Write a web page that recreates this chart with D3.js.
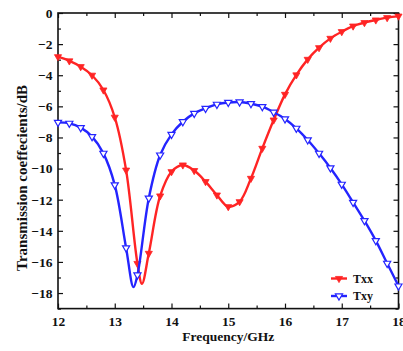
<!DOCTYPE html>
<html>
<head>
<meta charset="utf-8">
<script src="https://cdn.jsdelivr.net/npm/d3@7"></script>
<style>
  body { margin: 0; background: #fff; }
  svg { display: block; font-family: "Liberation Serif", "Times New Roman", serif; font-weight: bold; }
</style>
</head>
<body>
<div id="chart"></div>
<script>
// frequency points (GHz); markers are drawn only on the 0.2 GHz grid
const freqTxx = [12.0, 12.2, 12.4, 12.6, 12.8, 13.0, 13.2, 13.4, 13.48, 13.6, 13.8, 14.0, 14.2, 14.4, 14.6, 14.8, 15.0, 15.2, 15.4, 15.6, 15.8, 16.0, 16.2, 16.4, 16.6, 16.8, 17.0, 17.2, 17.4, 17.6, 17.8, 18.0];
const txx = [-2.81, -3.08, -3.45, -4.0, -4.95, -6.7, -10.1, -16.1, -17.4, -15.45, -11.76, -10.2, -9.77, -10.13, -10.84, -11.7, -12.45, -12.13, -10.63, -8.7, -6.88, -5.23, -3.98, -2.98, -2.23, -1.63, -1.2, -0.84, -0.62, -0.45, -0.3, -0.2];

const freqTxy = [12.0, 12.2, 12.4, 12.6, 12.8, 13.0, 13.2, 13.33, 13.4, 13.6, 13.8, 14.0, 14.2, 14.4, 14.6, 14.8, 15.0, 15.2, 15.4, 15.6, 15.8, 16.0, 16.2, 16.4, 16.6, 16.8, 17.0, 17.2, 17.4, 17.6, 17.8, 18.0];
const txy = [-7.03, -7.09, -7.37, -7.95, -9.02, -11.05, -15.1, -17.62, -16.84, -11.9, -9.13, -7.8, -6.99, -6.45, -6.13, -5.87, -5.75, -5.72, -5.83, -6.02, -6.38, -6.81, -7.41, -8.16, -9.02, -9.96, -11.01, -12.17, -13.35, -14.63, -16.09, -17.55];

const xTicks = [12, 13, 14, 15, 16, 17, 18];
const yTicks = [0, -2, -4, -6, -8, -10, -12, -14, -16, -18];
const seriesNames = ["Txx", "Txy"];

const config = {
  width: 403,
  height: 351,
  margin: {top: 13, right: 4.5, bottom: 42.4, left: 58},
  red: "#ff2424",
  blue: "#2424ff"
};

const W = config.width, H = config.height, m = config.margin;

const svg = d3.select("#chart").append("svg")
  .attr("width", W)
  .attr("height", H)
  .attr("viewBox", [0, 0, W, H]);

const x = d3.scaleLinear([12, 18], [m.left, W - m.right]);
const y = d3.scaleLinear([-19, 0], [H - m.bottom, m.top]);

const minorX = d3.range(12.5, 18, 1);
const minorY = d3.range(-19, 0, 2);

// inward ticks on all four sides
function ticks(g, axisFn, scale, vals, len, labels) {
  g.call(axisFn(scale).tickValues(vals).tickSizeInner(-len).tickSizeOuter(0)
    .tickFormat(labels ? d3.format("d") : ""));
}

const xb = svg.append("g").attr("transform", `translate(0,${H - m.bottom})`);
ticks(xb, d3.axisBottom, x, xTicks, 5, true);
xb.selectAll(".tick text").attr("y", 7.5).attr("font-size", 13.5).attr("font-family", "Liberation Serif").attr("font-weight", "bold").attr("fill", "#111");
svg.append("g").attr("transform", `translate(0,${H - m.bottom})`).call(g => ticks(g, d3.axisBottom, x, minorX, 3, false));
svg.append("g").attr("transform", `translate(0,${m.top})`).call(g => ticks(g, d3.axisTop, x, xTicks, 5, false));
svg.append("g").attr("transform", `translate(0,${m.top})`).call(g => ticks(g, d3.axisTop, x, minorX, 3, false));

const yl = svg.append("g").attr("transform", `translate(${m.left},0)`);
ticks(yl, d3.axisLeft, y, yTicks, 5, true);
yl.selectAll(".tick text").attr("x", -5.5).attr("font-size", 13.5).attr("font-family", "Liberation Serif").attr("font-weight", "bold").attr("fill", "#111");
svg.append("g").attr("transform", `translate(${m.left},0)`).call(g => ticks(g, d3.axisLeft, y, minorY, 3, false));
svg.append("g").attr("transform", `translate(${W - m.right},0)`).call(g => ticks(g, d3.axisRight, y, yTicks, 5, false));
svg.append("g").attr("transform", `translate(${W - m.right},0)`).call(g => ticks(g, d3.axisRight, y, minorY, 3, false));

svg.selectAll(".domain").remove();
svg.selectAll(".tick line").attr("stroke", "#111").attr("stroke-width", 1.2);

svg.append("rect")
  .attr("x", m.left).attr("y", m.top)
  .attr("width", W - m.right - m.left).attr("height", H - m.bottom - m.top)
  .attr("fill", "none").attr("stroke", "#111").attr("stroke-width", 1.6);

const onGrid = f => Math.abs(f * 5 - Math.round(f * 5)) < 1e-6;
const line = d3.line().x(d => x(d[0])).y(d => y(d[1])).curve(d3.curveCatmullRom.alpha(0.5));
const tri = d3.symbol().type(d3.symbolTriangle).size(22);

const series = [
  {name: seriesNames[0], f: freqTxx, v: txx, color: config.red, filled: true},
  {name: seriesNames[1], f: freqTxy, v: txy, color: config.blue, filled: false}
];

const plot = svg.append("g");
series.forEach(s => {
  const pts = s.f.map((f, i) => [f, s.v[i]]);
  plot.append("path")
    .attr("d", line(pts))
    .attr("fill", "none")
    .attr("stroke", s.color)
    .attr("stroke-width", 2.4);
  plot.append("g").selectAll("path")
    .data(pts.filter(p => onGrid(p[0])))
    .join("path")
    .attr("d", tri)
    .attr("transform", p => `translate(${x(p[0])},${y(p[1])}) rotate(180)`)
    .attr("fill", s.filled ? s.color : "#fff")
    .attr("stroke", s.color)
    .attr("stroke-width", s.filled ? 0.8 : 1.2);
});

// legend
const legend = svg.append("g");
series.forEach((s, i) => {
  const ly = 278.5 + i * 17.5;
  legend.append("line")
    .attr("x1", 331).attr("x2", 347).attr("y1", ly).attr("y2", ly)
    .attr("stroke", s.color).attr("stroke-width", 2.4);
  legend.append("path")
    .attr("d", tri)
    .attr("transform", `translate(339,${ly}) rotate(180)`)
    .attr("fill", s.filled ? s.color : "#fff")
    .attr("stroke", s.color)
    .attr("stroke-width", s.filled ? 0.8 : 1.2);
  legend.append("text")
    .attr("x", 353).attr("y", ly)
    .attr("dy", "0.35em")
    .attr("font-size", 12)
    .attr("fill", "#111")
    .text(s.name);
});

// axis titles
svg.append("text")
  .attr("x", (m.left + W - m.right) / 2)
  .attr("y", 341)
  .attr("text-anchor", "middle")
  .attr("font-size", 13.5)
  .attr("fill", "#111")
  .text("Frequency/GHz");

svg.append("text")
  .attr("transform", `translate(26.5,178) rotate(-90)`)
  .attr("text-anchor", "middle")
  .attr("font-size", 15)
  .attr("fill", "#111")
  .text("Transmission coeffecients/dB");
</script>
</body>
</html>
